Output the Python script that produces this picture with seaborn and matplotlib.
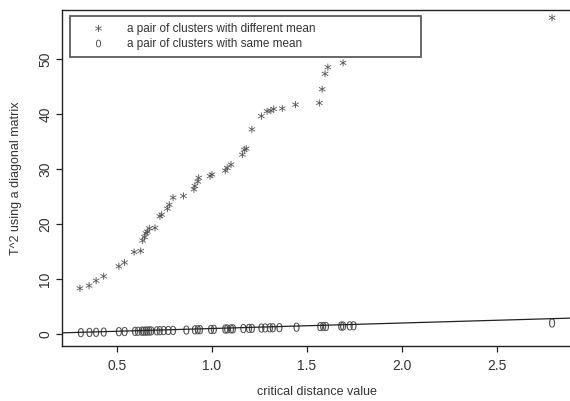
import seaborn as sns
import matplotlib.pyplot as plt
from matplotlib.lines import Line2D
import pandas as pd

# pairs of clusters with different mean
diff_x = [0.305, 0.353, 0.39, 0.43, 0.51, 0.54, 0.59, 0.625, 0.635, 0.645, 0.652,
          0.66, 0.67, 0.70, 0.726, 0.735, 0.765, 0.775, 0.795, 0.85, 0.905, 0.91,
          0.925, 0.93, 0.99, 1.0, 1.07, 1.08, 1.10, 1.16, 1.17, 1.18, 1.21, 1.26,
          1.29, 1.31, 1.325, 1.37, 1.44, 1.565, 1.58, 1.595, 1.61, 1.69, 2.79]
diff_y = [8.3, 8.8, 9.7, 10.5, 12.3, 13.0, 14.9, 15.1, 17.0, 17.6, 18.3,
          18.6, 19.2, 19.3, 21.4, 21.7, 22.8, 23.5, 24.8, 25.1, 26.3, 26.9,
          27.7, 28.4, 28.7, 29.0, 29.7, 30.2, 30.8, 32.6, 33.5, 33.7, 37.2, 39.6,
          40.5, 40.6, 40.9, 41.0, 41.7, 42.0, 44.5, 47.3, 48.5, 49.3, 57.5]

# pairs of clusters with same mean
same_x = [0.31, 0.355, 0.39, 0.43, 0.51, 0.54, 0.595, 0.61, 0.63, 0.64, 0.65, 0.66,
          0.67, 0.68, 0.71, 0.725, 0.745, 0.77, 0.795, 0.865, 0.91, 0.925, 0.937,
          0.995, 1.01, 1.07, 1.08, 1.10, 1.11, 1.165, 1.195, 1.21, 1.26, 1.28,
          1.305, 1.32, 1.355, 1.445, 1.57, 1.585, 1.60, 1.68, 1.69, 1.725, 1.745, 2.79]
same_y = [0.25, 0.28, 0.31, 0.35, 0.42, 0.45, 0.48, 0.50, 0.51, 0.52, 0.53, 0.54,
          0.55, 0.56, 0.58, 0.60, 0.62, 0.64, 0.66, 0.71, 0.76, 0.77, 0.78,
          0.83, 0.85, 0.90, 0.91, 0.93, 0.94, 0.99, 1.02, 1.03, 1.08, 1.10,
          1.12, 1.13, 1.16, 1.24, 1.35, 1.36, 1.37, 1.44, 1.45, 1.48, 1.50, 2.0]

legend_labels = ["a pair of clusters with different mean",
                 "a pair of clusters with same mean"]
x_ticks = [0.5, 1.0, 1.5, 2.0, 2.5]
y_ticks = [0, 10, 20, 30, 40, 50]

sns.set_theme(style="ticks")
plt.rcParams['font.family'] = ['Liberation Sans', 'DejaVu Sans']

ink = "#333333"
pt_col = "#505050"

fig = plt.figure(figsize=(5.7, 4.01), dpi=100)
ax = fig.add_axes([62 / 570, 55 / 401, 510 / 570, 336 / 401])

df_diff = pd.DataFrame({"x": diff_x, "y": diff_y})
df_same = pd.DataFrame({"x": same_x, "y": same_y})

sns.scatterplot(data=df_diff, x="x", y="y", marker="$*$", s=26,
                color=pt_col, edgecolor="none", linewidth=0, ax=ax, legend=False)
sns.scatterplot(data=df_same, x="x", y="y", marker="$0$", s=44,
                color=pt_col, edgecolor="none", linewidth=0, ax=ax, legend=False)

# reference line y = x
ax.axline((0, 0), slope=1, color="#222222", lw=0.9)

ax.set_xlim(0.2105, 2.895)
ax.set_ylim(-2.18, 58.9)
ax.set_xticks(x_ticks)
ax.set_xticklabels([f"{t:.1f}" for t in x_ticks])
ax.set_yticks(y_ticks)
ax.set_yticklabels([str(t) for t in y_ticks], rotation=90, va="center")

for s in ax.spines.values():
    s.set_color("#222222")
    s.set_linewidth(1.0)
ax.tick_params(colors="#222222", labelcolor=ink, labelsize=10,
               length=4, width=0.9)
ax.tick_params(axis="x", pad=5)
ax.tick_params(axis="y", pad=3)

ax.set_xlabel("critical distance value", fontsize=9, color=ink, labelpad=10)
ax.set_ylabel("T^2 using a diagonal matrix", fontsize=9, color=ink, labelpad=12)

handles = [
    Line2D([], [], ls="none", marker="$*$", markersize=5, mew=0, color=pt_col),
    Line2D([], [], ls="none", marker="$0$", markersize=5.5, mew=0, color=pt_col),
]
leg = ax.legend(handles, legend_labels, loc="upper left",
                bbox_to_anchor=(0.0157, 0.862, 0.688, 0.121), mode="expand",
                borderaxespad=0, fontsize=8.5, handlelength=3.5, handletextpad=0.65,
                labelspacing=0.2, borderpad=0.65, frameon=True, fancybox=False)
leg.get_frame().set_edgecolor("#333333")
leg.get_frame().set_linewidth(1.3)
for t in leg.get_texts():
    t.set_color(ink)

fig.savefig("out.png", dpi=100)
